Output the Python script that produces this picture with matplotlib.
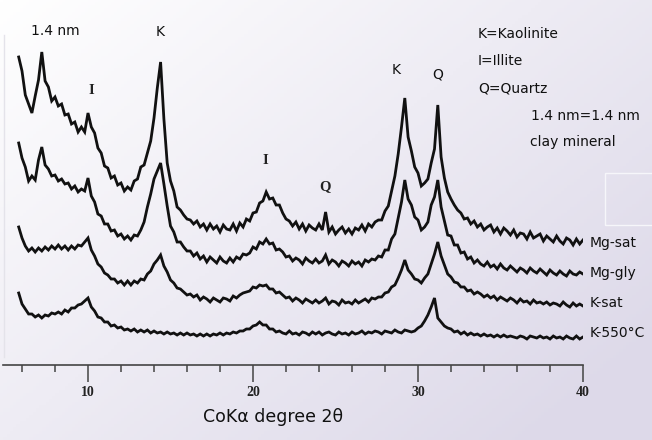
import matplotlib
matplotlib.use('Agg')
import matplotlib.pyplot as plt
import numpy as np
from matplotlib.lines import Line2D

# 2-theta scan positions (CoKa), step 0.2 degree
two_theta = np.round(np.arange(5.8, 40.01, 0.2), 1)

# intensities (arbitrary units, traces already stacked)
mg_sat = [308, 294, 270, 261, 252, 269, 285, 313, 284, 278,
          264, 268, 259, 261, 250, 251, 241, 243, 233, 238,
          233, 252, 238, 232, 217, 212, 199, 197, 187, 189,
          180, 182, 174, 178, 175, 184, 186, 198, 200, 212,
          224, 247, 277, 303, 246, 202, 184, 174, 158, 155,
          150, 146, 145, 141, 144, 138, 141, 135, 141, 136,
          139, 133, 140, 136, 135, 141, 134, 142, 138, 146,
          144, 152, 153, 162, 164, 173, 166, 167, 160, 160,
          152, 146, 144, 139, 143, 136, 141, 134, 140, 137,
          135, 141, 135, 153, 133, 138, 131, 135, 138, 132,
          136, 131, 137, 135, 140, 134, 141, 138, 143, 145,
          145, 154, 159, 174, 189, 211, 238, 267, 228, 214,
          198, 192, 179, 182, 186, 202, 216, 260, 208, 187,
          173, 166, 160, 155, 152, 146, 147, 141, 144, 138,
          141, 135, 138, 140, 133, 137, 131, 137, 134, 130,
          135, 128, 132, 131, 126, 133, 127, 129, 131, 124,
          129, 126, 123, 129, 124, 121, 127, 125, 120, 126,
          121, 125]

mg_gly = [222, 207, 198, 184, 189, 185, 205, 218, 200, 196,
          189, 190, 184, 186, 181, 182, 176, 179, 173, 176,
          174, 187, 169, 163, 151, 149, 141, 141, 134, 135,
          129, 131, 126, 129, 125, 130, 129, 135, 143, 158,
          171, 186, 194, 202, 181, 159, 139, 133, 123, 123,
          118, 114, 114, 109, 112, 106, 109, 103, 108, 105,
          102, 108, 104, 102, 107, 103, 108, 106, 111, 110,
          112, 118, 116, 123, 121, 126, 121, 122, 115, 116,
          113, 108, 109, 104, 107, 105, 101, 107, 104, 102,
          106, 102, 104, 110, 101, 105, 103, 99, 104, 102,
          99, 104, 101, 103, 99, 105, 103, 106, 105, 109,
          108, 115, 115, 126, 131, 147, 163, 185, 166, 160,
          148, 145, 135, 138, 143, 160, 168, 185, 158, 144,
          130, 129, 120, 120, 112, 113, 106, 108, 102, 105,
          101, 99, 103, 98, 100, 96, 101, 97, 95, 99,
          96, 93, 97, 95, 92, 97, 94, 92, 96, 93,
          90, 95, 92, 90, 94, 91, 89, 94, 91, 90,
          93, 91]

k_sat = [138, 127, 119, 114, 117, 113, 117, 114, 118, 115,
         119, 116, 120, 116, 119, 115, 119, 116, 120, 119,
         123, 127, 115, 109, 101, 98, 92, 90, 86, 86,
         82, 84, 80, 84, 80, 84, 82, 86, 85, 91,
         94, 101, 105, 110, 99, 93, 85, 82, 77, 76,
         73, 70, 71, 68, 70, 65, 68, 66, 63, 67,
         65, 63, 67, 66, 64, 69, 67, 70, 72, 73,
         74, 78, 77, 80, 79, 80, 76, 76, 72, 73,
         70, 67, 68, 64, 67, 65, 62, 66, 64, 62,
         65, 62, 64, 67, 61, 64, 63, 60, 65, 62,
         63, 61, 65, 62, 64, 66, 63, 67, 66, 68,
         68, 72, 73, 78, 80, 87, 95, 105, 95, 91,
         86, 85, 82, 87, 91, 101, 111, 123, 109, 100,
         91, 88, 83, 82, 78, 78, 74, 75, 71, 73,
         71, 68, 70, 67, 69, 65, 68, 66, 64, 67,
         65, 62, 66, 63, 64, 61, 65, 62, 63, 61,
         63, 60, 62, 61, 59, 63, 60, 58, 62, 59,
         61, 59]

k_550 = [72, 61, 56, 51, 51, 48, 50, 47, 50, 49,
         52, 51, 53, 51, 55, 53, 57, 57, 60, 61,
         64, 67, 58, 54, 48, 47, 43, 43, 39, 40,
         37, 38, 35, 36, 34, 36, 33, 35, 33, 35,
         32, 34, 32, 33, 31, 33, 31, 32, 30, 32,
         30, 32, 30, 31, 29, 31, 29, 31, 29, 31,
         30, 32, 30, 32, 31, 33, 32, 34, 34, 36,
         36, 39, 40, 43, 40, 40, 36, 36, 33, 34,
         32, 31, 34, 31, 32, 30, 33, 32, 30, 33,
         31, 33, 30, 32, 33, 31, 30, 33, 31, 32,
         30, 33, 31, 32, 34, 31, 33, 32, 34, 33,
         31, 34, 33, 32, 35, 33, 32, 35, 34, 33,
         34, 37, 39, 44, 50, 58, 67, 47, 43, 39,
         37, 36, 33, 34, 31, 33, 30, 32, 30, 31,
         29, 31, 29, 30, 28, 30, 28, 30, 28, 29,
         28, 27, 29, 28, 26, 29, 28, 27, 29, 27,
         28, 26, 29, 27, 28, 26, 29, 27, 26, 29,
         26, 28]

series_names = ['Mg-sat', 'Mg-gly', 'K-sat', 'K-550°C']
major_ticks = [10, 20, 30, 40]
minor_ticks = [6, 8, 12, 14, 16, 18, 22, 24, 26, 28, 32, 34, 36, 38]

W, H = 652, 440
fig = plt.figure(figsize=(W / 100, H / 100), dpi=100)

# soft white -> lavender background
bg = fig.add_axes([0, 0, 1, 1], zorder=-5)
gx, gy = np.meshgrid(np.linspace(0, 1, 200), np.linspace(0, 1, 140))
g = np.clip(0.6 * gx + 0.5 * gy, 0, 1)
c0 = np.array([1.0, 1.0, 1.0])
c1 = np.array([221, 217, 233]) / 255.0
img = c0[None, None, :] * (1 - g[..., None]) + c1[None, None, :] * g[..., None]
bg.imshow(img, aspect='auto', extent=[0, 1, 0, 1], origin='upper')
bg.axis('off')

# faint frame line on the left, faint box on the right
fig.add_artist(Line2D([4 / W, 4 / W], [1 - 357 / H, 1 - 35 / H], color='#e4e3ea', lw=1))
fig.add_artist(plt.Rectangle((605 / W, 1 - 225 / H), 60 / W, 52 / H, fill=False,
                             edgecolor='#f6f6fa', lw=1))

ax = fig.add_axes([0, 75 / H, 583 / W, 365 / H])
ax.patch.set_visible(False)
ax.set_xlim(10 - 88 / 16.5, 40)
ax.set_ylim(0, 365)

for vals in [mg_sat, mg_gly, k_sat, k_550]:
    ax.plot(two_theta, vals, color='#111111', lw=2.0, solid_joinstyle='miter')

for s in ['top', 'right', 'left']:
    ax.spines[s].set_visible(False)
ax.spines['bottom'].set_color('#444444')
ax.spines['bottom'].set_linewidth(1.2)
ax.spines['bottom'].set_bounds(4.85, 40)
ax.set_yticks([])
ax.set_xticks(major_ticks)
ax.set_xticks(minor_ticks, minor=True)
ax.tick_params(axis='x', which='major', length=12, width=1.1, color='#444444', pad=3)
ax.tick_params(axis='x', which='minor', length=5, width=1.1, color='#444444')
for lab in ax.get_xticklabels():
    lab.set_fontfamily('Liberation Serif')
    lab.set_fontweight('bold')
    lab.set_fontsize(10)
    lab.set_color('#222222')

# peak labels
sans = dict(family='DejaVu Sans', fontsize=10, color='#111111', ha='center', va='center')
serif = dict(family='Liberation Serif', fontweight='bold', fontsize=10.5, color='#222222',
             ha='center', va='center')
ax.text(8.0, 334, '1.4 nm', **sans)
ax.text(14.36, 333, 'K', **sans)
ax.text(28.67, 295, 'K', **sans)
ax.text(31.21, 290, 'Q', **sans)
ax.text(10.18, 275, 'I', **serif)
ax.text(20.73, 205, 'I', **serif)
ax.text(24.36, 178, 'Q', **serif)

# key
key = dict(family='DejaVu Sans', fontsize=10, color='#111111', ha='left', va='center')
ax.text(33.64, 331, 'K=Kaolinite', **key)
ax.text(33.64, 304, 'I=Illite', **key)
ax.text(33.64, 277, 'Q=Quartz', **key)
ax.text(36.85, 249, '1.4 nm=1.4 nm', **key)
ax.text(36.79, 223, 'clay mineral', **key)

# trace names at the right end
for name, yv in zip(series_names, [122, 92, 62, 32]):
    ax.text(40.42, yv, name, **key)

fig.text(273 / W, 1 - 417 / H, 'CoKα degree 2θ', family='DejaVu Sans', fontsize=12.5,
         color='#111111', ha='center', va='center')

plt.savefig('out.png', dpi=100)
